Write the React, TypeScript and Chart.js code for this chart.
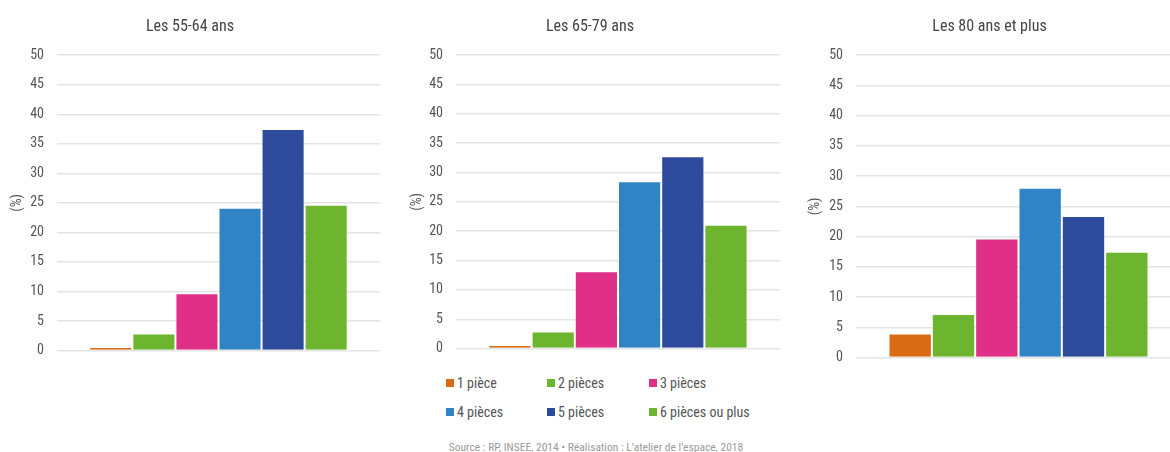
import React, { useEffect, useRef } from 'react';
import { Chart, registerables } from 'chart.js';

Chart.register(...registerables);

const FONT = '"Roboto Condensed", "Liberation Sans Narrow", "DejaVu Sans Condensed", Roboto, sans-serif';

const roomCategories = ['1 pièce', '2 pièces', '3 pièces', '4 pièces', '5 pièces', '6 pièces ou plus'];
const roomColors = ['#D86B14', '#6DB52E', '#E02F87', '#3084C6', '#2E4A9B', '#6DB52E'];
const ageGroups = ['Les 55-64 ans', 'Les 65-79 ans', 'Les 80 ans et plus'];
const values55to64 = [0.6, 2.9, 9.7, 24.2, 37.5, 24.7];
const values65to79 = [0.6, 2.9, 13.2, 28.5, 32.8, 21.1];
const values80plus = [4.0, 7.2, 19.7, 28.1, 23.4, 17.5];
const yAxisTitle = '(%)';
const sourceText = 'Source : RP, INSEE, 2014 • Réalisation : L’atelier de l’espace, 2018';

type PanelProps = { title: string; values: number[]; left: number; width: number; height: number; axisWidth: number };

function BarPanel({ title, values, left, width, height, axisWidth }: PanelProps) {
  const ref = useRef<HTMLCanvasElement | null>(null);
  useEffect(() => {
    if (!ref.current) return;
    const chart = new Chart(ref.current, {
      type: 'bar',
      data: {
        labels: [''],
        datasets: roomCategories.map((name, i) => ({
          label: name,
          data: [values[i]],
          backgroundColor: roomColors[i],
          borderColor: 'rgba(255,255,255,0.35)',
          borderWidth: 1,
          barPercentage: 1,
          categoryPercentage: 0.8,
        })),
      },
      options: {
        animation: false,
        responsive: false,
        maintainAspectRatio: false,
        layout: { padding: { top: 0, right: 6, bottom: 10, left: 0 } },
        plugins: {
          legend: { display: false },
          tooltip: { enabled: false },
          title: {
            display: true,
            text: title,
            color: '#444',
            font: { family: FONT, size: 16, weight: 'normal' },
            padding: { top: 17, bottom: 19 },
          },
        },
        scales: {
          x: { display: false },
          y: {
            min: 0,
            max: 50,
            ticks: { stepSize: 5, color: '#555', padding: 13, font: { family: FONT, size: 14 } },
            grid: { color: '#e4e4e4', lineWidth: 1.5, drawTicks: false },
            border: { display: false },
            title: {
              display: true,
              text: yAxisTitle,
              color: '#555',
              font: { family: FONT, size: 14 },
              padding: { top: 9, bottom: 0 },
            },
            afterFit: (scale: any) => {
              scale.width = axisWidth;
            },
          },
        },
      },
    } as any);
    return () => chart.destroy();
  }, [title, values, width, height, axisWidth]);
  return (
    <div style={{ position: 'absolute', left, top: 0, width, height }}>
      <canvas ref={ref} width={width} height={height} style={{ width, height, display: 'block' }} />
    </div>
  );
}

const legendCols = [446, 547, 649];
const legendRows = [383, 412];

export default function App() {
  return (
    <div style={{ position: 'absolute', left: 0, top: 0, width: 1170, height: 452, overflow: 'hidden', background: '#fff', fontFamily: FONT }}>
      <BarPanel title={ageGroups[0]} values={values55to64} left={0} width={386} height={372} axisWidth={57} />
      <BarPanel title={ageGroups[1]} values={values65to79} left={400} width={386} height={370} axisWidth={56} />
      <BarPanel title={ageGroups[2]} values={values80plus} left={798} width={389} height={379} axisWidth={58} />
      {roomCategories.map((name, i) => {
        const x = legendCols[i % 3];
        const y = legendRows[Math.floor(i / 3)];
        return (
          <div key={name} style={{ position: 'absolute', left: x, top: y - 10, height: 20, display: 'flex', alignItems: 'center', whiteSpace: 'nowrap' }}>
            <span style={{ display: 'inline-block', width: 8, height: 8, background: roomColors[i], marginRight: 3 }} />
            <span style={{ fontSize: 14, color: '#555', lineHeight: '20px' }}>{name}</span>
          </div>
        );
      })}
      <div style={{ position: 'absolute', left: 396, width: 400, top: 439, height: 16, lineHeight: '16px', textAlign: 'center', fontSize: 11.5, color: '#9a9a9a', whiteSpace: 'nowrap' }}>
        {sourceText}
      </div>
    </div>
  );
}
